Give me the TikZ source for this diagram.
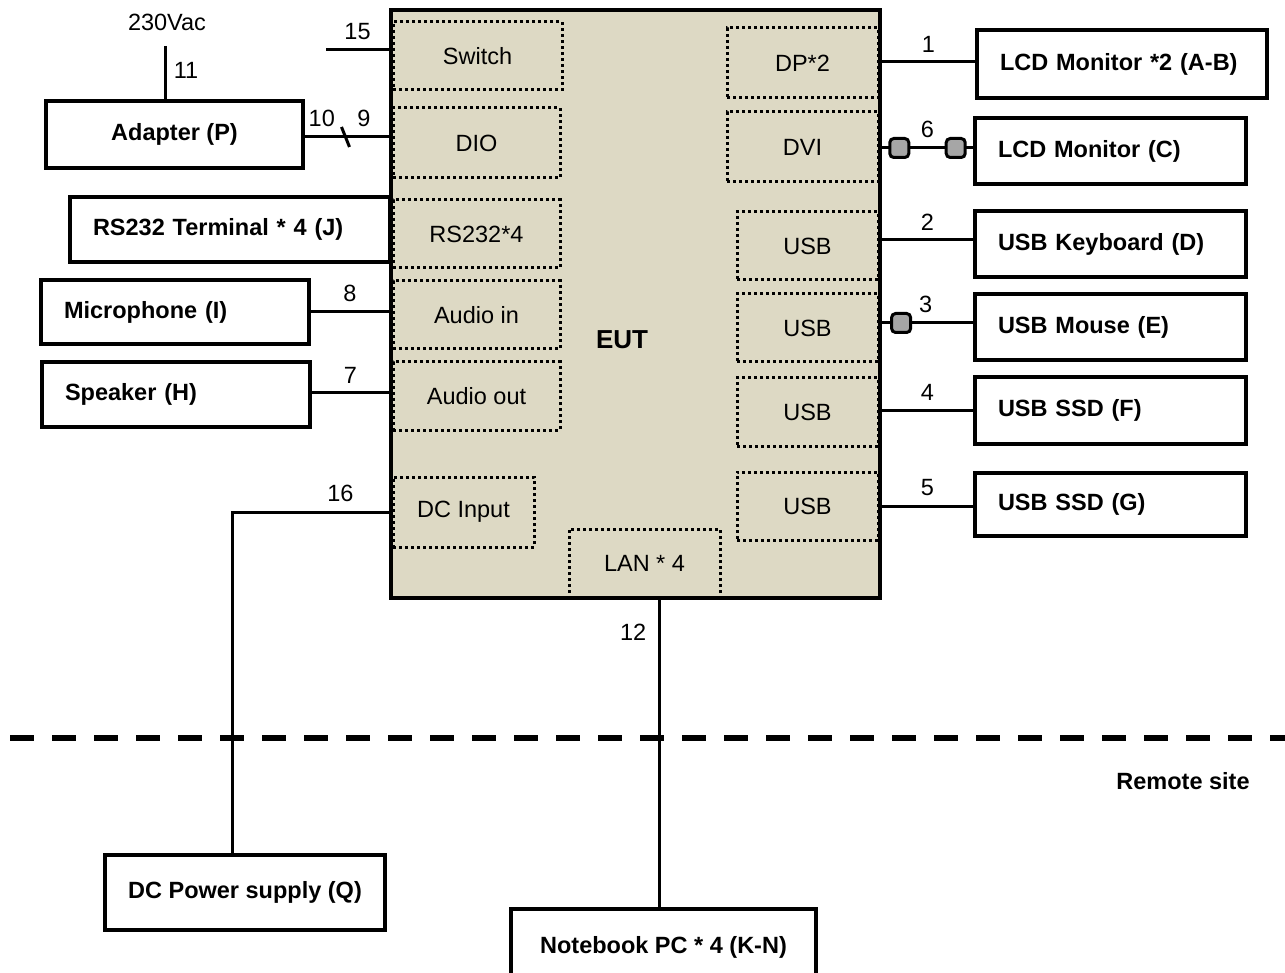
\documentclass[tikz,border=0pt]{standalone}
\usepackage{fontspec}
\setmainfont{Liberation Sans}
\definecolor{eutfill}{HTML}{DDD9C4}
\definecolor{ferritefill}{HTML}{A6A6A6}

\begin{document}
\begin{tikzpicture}[x=1pt,y=-1pt,font=\fontsize{23.5}{28}\selectfont,
  dev/.style={draw,line width=4pt,inner xsep=23pt,font=\fontsize{23.5}{28}\selectfont\bfseries},
  devl/.style={dev,align=left,text width=#1},
  port/.style={draw,line width=3pt,dash pattern=on 3pt off 3pt},
  wire/.style={line width=3pt},
  num/.style={above=5pt},
  ferrite/.style={draw,line width=3pt,fill=ferritefill,rounded corners=4pt,minimum size=19pt,inner sep=0pt}]
\useasboundingbox (0,0) rectangle (1285,973);

\node[draw,line width=4pt,fill=eutfill,minimum width=489pt,minimum height=588pt] (eut) at (635.5,304) {};
\node[font=\fontsize{26}{30}\selectfont\bfseries] (eutname) at (622,340) {EUT};

\node[port,minimum width=169pt,minimum height=68pt] (switch) at (477.5,56) {Switch};
\node[port,minimum width=167pt,minimum height=70pt] (dio) at (476.5,143) {DIO};
\node[port,minimum width=167pt,minimum height=68pt] (rs232) at (476.5,234) {RS232*4};
\node[port,minimum width=167pt,minimum height=68pt] (audioin) at (476.5,315) {Audio in};
\node[port,minimum width=167pt,minimum height=68pt] (audioout) at (476.5,396) {Audio out};
\node[port,minimum width=141pt,minimum height=70pt] (dcin) at (463.5,512) {DC Input};
\node[port,minimum width=151pt,minimum height=69pt] (lan) at (644.5,563.5) {LAN * 4};
\node[port,minimum width=151pt,minimum height=70pt] (dp) at (802.5,63) {DP*2};
\node[port,minimum width=151pt,minimum height=70pt] (dvi) at (802.5,147) {DVI};
\node[port,minimum width=141pt,minimum height=68pt] (usba) at (807.5,246) {USB};
\node[port,minimum width=141pt,minimum height=68pt] (usbb) at (807.5,328) {USB};
\node[port,minimum width=141pt,minimum height=68pt] (usbc) at (807.5,412) {USB};
\node[port,minimum width=141pt,minimum height=68pt] (usbd) at (807.5,506) {USB};

\node (mains) at (167,22) {230Vac};
\node[dev,minimum width=257pt,minimum height=67pt] (adapter) at (174.5,134.5) {Adapter (P)};
\node[devl=274pt,minimum height=65pt] (rsterm) at (230,229.5) {RS232 Terminal * 4 (J)};
\node[devl=222pt,minimum height=64pt] (mic) at (175,312) {Microphone (I)};
\node[devl=222pt,minimum height=65pt] (speaker) at (176,394.5) {Speaker (H)};
\node[dev,minimum width=280pt,minimum height=75pt] (dcps) at (245,892.5) {DC Power supply (Q)};
\node[dev,minimum width=305pt,minimum height=76pt] (notebook) at (663.5,947) {Notebook PC * 4 (K-N)};

\node[devl=244pt,minimum height=68pt] (lcdab) at (1122,64) {LCD Monitor *2 (A-B)};
\node[devl=225pt,minimum height=66pt] (lcdc) at (1110.5,151) {LCD Monitor (C)};
\node[devl=225pt,minimum height=66pt] (keyboard) at (1110.5,244) {USB Keyboard (D)};
\node[devl=225pt,minimum height=66pt] (mouse) at (1110.5,327) {USB Mouse (E)};
\node[devl=225pt,minimum height=67pt] (ssdf) at (1110.5,410.5) {USB SSD (F)};
\node[devl=225pt,minimum height=63pt] (ssdg) at (1110.5,504.5) {USB SSD (G)};

\node[font=\fontsize{23.5}{28}\selectfont\bfseries] (remote) at (1183,781) {Remote site};

\coordinate (sw15) at (326,50);
\coordinate (ac11) at (165,46);
\coordinate (slash) at (345.5,137);
\coordinate (bend16) at (232,512);
\coordinate (lan12) at (659,598);
\coordinate (dashl) at (10,738);
\coordinate (dashr) at (1300,738);

\path[wire] (sw15) edge node[num]{15} (sw15 -| eut.west);
\path[wire] (ac11) edge node[right=4pt,pos=0.47]{11} (ac11 |- adapter.north);
\path[wire] ([yshift=-2.5pt]adapter.east) edge node[num,pos=0.2]{10} node[num,pos=0.7]{9} ([yshift=-2.5pt]adapter.east -| eut.west);
\draw[wire] ([shift={(-4,-10)}]slash) -- ([shift={(4,10)}]slash);
\path[wire] (mic.east) edge node[num]{8} (mic.east -| eut.west);
\path[wire] ([yshift=1.5pt]speaker.east) edge node[num]{7} ([yshift=1.5pt]speaker.east -| eut.west);
\draw[wire] (dcin.west) -- node[num,pos=0.32]{16} (bend16) -- (bend16 |- dcps.north);
\draw[wire] (lan12) -- node[left=8pt,pos=0.11]{12} (lan12 |- notebook.north);

\path[wire] ([yshift=2pt]lcdab.west -| eut.east) edge node[num]{1} ([yshift=2pt]lcdab.west);
\draw[wire] ([yshift=3pt]lcdc.west -| eut.east) -- node[ferrite,pos=0.19] (fer6a) {} node[num,pos=0.5]{6} node[ferrite,pos=0.81] (fer6b) {} ([yshift=3pt]lcdc.west);
\path[wire] ([yshift=4pt]keyboard.west -| eut.east) edge node[num]{2} ([yshift=4pt]keyboard.west);
\draw[wire] ([yshift=4pt]mouse.west -| eut.east) -- node[ferrite,pos=0.21] (fer3) {} node[num,pos=0.48]{3} ([yshift=4pt]mouse.west);
\path[wire] (ssdf.west -| eut.east) edge node[num]{4} (ssdf.west);
\path[wire] ([yshift=-1.5pt]ssdg.west -| eut.east) edge node[num]{5} ([yshift=-1.5pt]ssdg.west);

\draw[line width=6pt,dash pattern=on 24pt off 18pt] (dashl) -- (dashr);
\end{tikzpicture}
\end{document}
